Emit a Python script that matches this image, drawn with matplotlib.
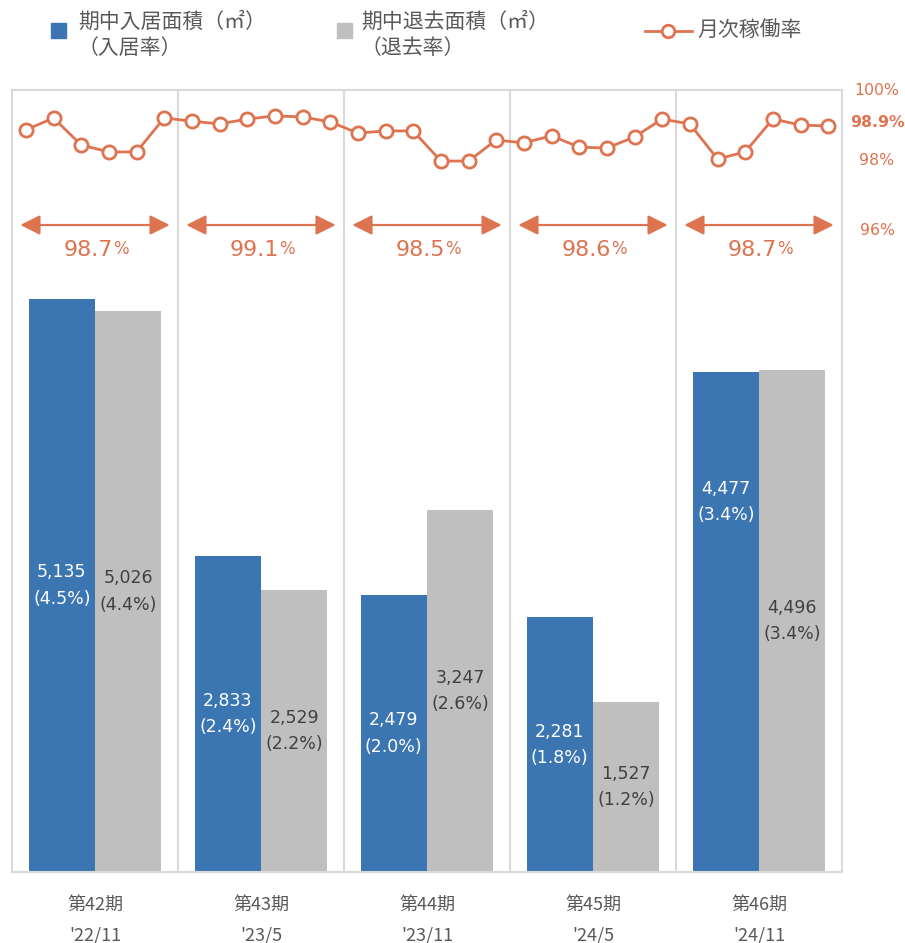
import matplotlib
matplotlib.use('Agg')
import matplotlib.pyplot as plt
from matplotlib.patches import Rectangle
from matplotlib.lines import Line2D
import matplotlib.transforms as mtransforms

plt.rcParams['font.family'] = ['DejaVu Sans', 'Noto Sans CJK JP']
JP = ['Noto Sans CJK JP', 'DejaVu Sans']

# data
periods = ['第42期', '第43期', '第44期', '第45期', '第46期']
dates = ["'22/11", "'23/5", "'23/11", "'24/5", "'24/11"]
move_in = [5135, 2833, 2479, 2281, 4477]
move_in_rate = ['4.5%', '2.4%', '2.0%', '1.8%', '3.4%']
move_out = [5026, 2529, 3247, 1527, 4496]
move_out_rate = ['4.4%', '2.2%', '2.6%', '1.2%', '3.4%']
period_avg = ['98.7', '99.1', '98.5', '98.6', '98.7']
monthly = [
    98.86, 99.20, 98.43, 98.23, 98.23, 99.20,
    99.11, 99.03, 99.17, 99.26, 99.23, 99.09,
    98.77, 98.83, 98.83, 97.97, 97.97, 98.57,
    98.49, 98.69, 98.37, 98.34, 98.66, 99.17,
    99.03, 98.03, 98.23, 99.17, 99.00, 98.97,
]
right_ticks = ['100%', '98%', '96%']
right_vals = [100, 98, 96]
latest = '98.9%'

BLUE = '#3B76B3'
GREY = '#BFBFBF'
ORANGE = '#DE7350'
TXT = '#595959'
FRAME = '#D9D9D9'

W, H = 905, 943
fig = plt.figure(figsize=(W / 100, H / 100), dpi=100)
ax = fig.add_axes([12 / W, 71 / H, 830 / W, 782 / H])

n = len(periods)
xs = [i + 0.5 for i in range(n)]
bw = 0.4
ax.bar([x - bw / 2 for x in xs], move_in, width=bw, color=BLUE, zorder=2)
ax.bar([x + bw / 2 for x in xs], move_out, width=bw, color=GREY, zorder=2)
ax.set_xlim(0, n)
ax.set_ylim(0, 7007)

# bar value labels
for i, x in enumerate(xs):
    ypos = move_in[i] / 2 if i < n - 1 else move_in[i] * 0.74
    ax.text(x - bw / 2, ypos, f'{move_in[i]:,}\n({move_in_rate[i]})',
            ha='center', va='center', color='white', fontsize=12.5,
            family='DejaVu Sans', linespacing=1.6, zorder=3)
    ax.text(x + bw / 2, move_out[i] / 2, f'{move_out[i]:,}\n({move_out_rate[i]})',
            ha='center', va='center', color='#404040', fontsize=12.5,
            family='DejaVu Sans', linespacing=1.6, zorder=3)

# frame and separators
for i in range(1, n):
    ax.axvline(i, color=FRAME, lw=1.5, zorder=1)
for s in ax.spines.values():
    s.set_color(FRAME)
    s.set_linewidth(1.5)
ax.set_xticks([])
ax.set_yticks([])

# monthly occupancy line
ax2 = ax.twinx()
ax2.set_ylim(100 - 782 / 35, 100)
ax2.set_xlim(0, n)
for s in ax2.spines.values():
    s.set_visible(False)
ax2.set_yticks([])
mx = [k / 6 + 1 / 12 for k in range(len(monthly))]
ax2.plot(mx, monthly, color=ORANGE, lw=2, marker='o', ms=9.5,
         mfc='white', mec=ORANGE, mew=2, zorder=4, clip_on=False)

# right axis labels
tr = mtransforms.blended_transform_factory(ax2.transAxes, ax2.transData)
rx = (877 - 12) / 830
for lab, v in zip(right_ticks, right_vals):
    ax2.text(rx, v, lab, transform=tr, ha='center', va='center',
             color=ORANGE, fontsize=11.3)
ax2.text(rx, monthly[-1] + 0.1, latest, transform=tr, ha='center', va='center',
         color=ORANGE, fontsize=11.3, fontweight='bold')

# period average arrows
arrow_y = 100 - (225 - 90) / 35
text_y = 100 - (250 - 90) / 35
for i in range(n):
    ax2.annotate('', xy=(i + 0.05, arrow_y), xytext=(i + 0.95, arrow_y),
                 arrowprops=dict(arrowstyle='<|-|>,head_length=0.8,head_width=0.4',
                                 color=ORANGE, lw=1.6, shrinkA=0, shrinkB=0,
                                 mutation_scale=15))
    t = ax2.text(i + 0.5 - 0.04, text_y, period_avg[i], ha='center', va='center',
                 color=ORANGE, fontsize=16)
    ax2.annotate('%', xy=(1, 0.08), xycoords=t, ha='left', va='bottom',
                 color=ORANGE, fontsize=12)

# category labels
for i in range(n):
    fx = (12 + 166 * (i + 0.5)) / W
    fig.text(fx, 1 - 905 / H, periods[i], ha='center', va='center',
             color=TXT, fontsize=13, family=JP)
    fig.text(fx, 1 - 935 / H, dates[i], ha='center', va='center',
             color=TXT, fontsize=13, family=JP)

# legend
fig.patches.append(Rectangle((51 / W, 1 - 38 / H), 15 / W, 15 / H,
                             transform=fig.transFigure, color=BLUE))
fig.text(78 / W, 1 - 22 / H, '期中入居面積（㎡）', ha='left', va='center',
         color=TXT, fontsize=15, family=JP)
fig.text(78 / W, 1 - 48 / H, '（入居率）', ha='left', va='center',
         color=TXT, fontsize=15, family=JP)
fig.patches.append(Rectangle((337 / W, 1 - 38 / H), 15 / W, 15 / H,
                             transform=fig.transFigure, color=GREY))
fig.text(361 / W, 1 - 22 / H, '期中退去面積（㎡）', ha='left', va='center',
         color=TXT, fontsize=15, family=JP)
fig.text(361 / W, 1 - 48 / H, '（退去率）', ha='left', va='center',
         color=TXT, fontsize=15, family=JP)
fig.lines.append(Line2D([645 / W, 692 / W], [1 - 31 / H, 1 - 31 / H],
                        transform=fig.transFigure, color=ORANGE, lw=2))
fig.lines.append(Line2D([668 / W], [1 - 31 / H], transform=fig.transFigure,
                        color=ORANGE, marker='o', ms=9, mfc='white', mew=2))
fig.text(697 / W, 1 - 31 / H, '月次稼働率', ha='left', va='center',
         color=TXT, fontsize=15, family=JP)

fig.savefig('out.png', dpi=100, facecolor='white')
